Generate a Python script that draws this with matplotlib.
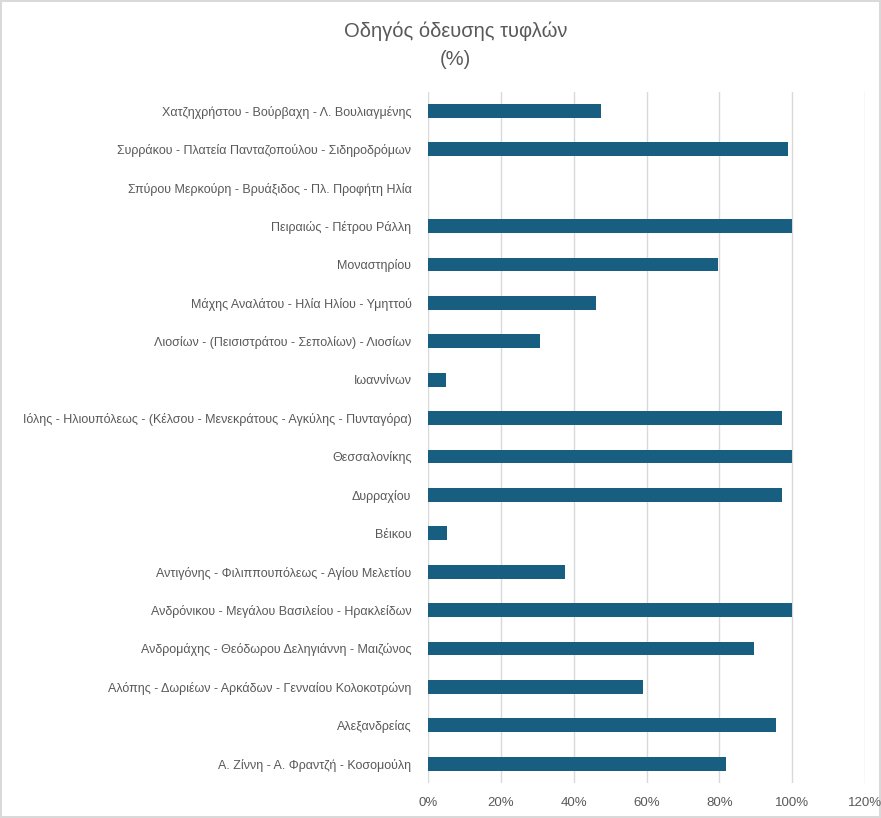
import matplotlib.pyplot as plt
from matplotlib.ticker import PercentFormatter

plt.rcParams['font.family'] = ['Liberation Sans Narrow', 'Liberation Sans', 'DejaVu Sans']

streets = [
    "Χατζηχρήστου - Βούρβαχη - Λ. Βουλιαγμένης",
    "Συρράκου - Πλατεία Πανταζοπούλου - Σιδηροδρόμων",
    "Σπύρου Μερκούρη - Βρυάξιδος - Πλ. Προφήτη Ηλία",
    "Πειραιώς - Πέτρου Ράλλη",
    "Μοναστηρίου",
    "Μάχης Αναλάτου - Ηλία Ηλίου - Υμηττού",
    "Λιοσίων - (Πεισιστράτου - Σεπολίων) - Λιοσίων",
    "Ιωαννίνων",
    "Ιόλης - Ηλιουπόλεως - (Κέλσου - Μενεκράτους - Αγκύλης - Πυνταγόρα)",
    "Θεσσαλονίκης",
    "Δυρραχίου",
    "Βέικου",
    "Αντιγόνης - Φιλιππουπόλεως - Αγίου Μελετίου",
    "Ανδρόνικου - Μεγάλου Βασιλείου - Ηρακλείδων",
    "Ανδρομάχης - Θεόδωρου Δεληγιάννη - Μαιζώνος",
    "Αλόπης - Δωριέων - Αρκάδων - Γενναίου Κολοκοτρώνη",
    "Αλεξανδρείας",
    "Α. Ζίννη - Α. Φραντζή - Κοσομούλη",
]
share = [0.476, 0.987, 0.0, 1.0, 0.795, 0.462, 0.308, 0.049, 0.971,
         1.0, 0.973, 0.052, 0.377, 1.0, 0.896, 0.591, 0.956, 0.818]

fig = plt.figure(figsize=(8.81, 8.18), dpi=100)
fig.patch.set_edgecolor('#d9d9d9')
fig.patch.set_linewidth(1.5)
ax = fig.add_axes([0.486, 0.043, 0.496, 0.845])

pos = list(range(len(streets)))
ax.barh(pos, share, height=0.36, color='#175e80', zorder=3)
ax.set_ylim(len(streets) - 0.5, -0.5)
ax.set_yticks(pos)
ax.set_yticklabels(streets, fontsize=9, color='#595959')
ax.set_xlim(0, 1.2)
ax.set_xticks([0, 0.2, 0.4, 0.6, 0.8, 1.0, 1.2])
ax.xaxis.set_major_formatter(PercentFormatter(1.0, decimals=0))
ax.tick_params(axis='x', labelsize=9.5, colors='#595959', length=0, pad=10)
ax.tick_params(axis='y', length=0, pad=12)
ax.grid(axis='x', color='#d9d9d9', linewidth=1, zorder=0)
for s in ax.spines.values():
    s.set_visible(False)

fig.text(0.517, 0.962, "Οδηγός όδευσης τυφλών", ha='center', va='center', fontsize=14.5, color='#595959')
fig.text(0.517, 0.927, "(%)", ha='center', va='center', fontsize=14.5, color='#595959')

fig.savefig('out.png', dpi=100, edgecolor=fig.get_edgecolor())
